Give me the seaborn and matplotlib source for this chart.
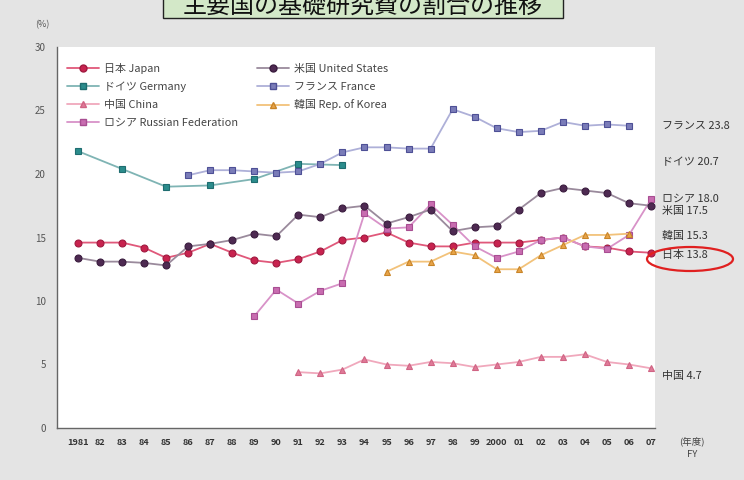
import matplotlib
matplotlib.use("Agg")
import matplotlib.pyplot as plt
from matplotlib.patches import Ellipse, Rectangle
from matplotlib.lines import Line2D
import seaborn as sns
import pandas as pd

sns.set_theme(style="white")
plt.rcParams["font.family"] = ["Noto Sans CJK JP", "DejaVu Sans"]

# Share of basic research in total R&D expenditure (%), by fiscal year
years_all = list(range(1981, 2008))
japan = [14.6, 14.6, 14.6, 14.2, 13.4, 13.8, 14.5, 13.8, 13.2, 13.0, 13.3, 13.9, 14.8, 15.0, 15.4,
         14.6, 14.3, 14.3, 14.6, 14.6, 14.6, 14.8, 15.0, 14.3, 14.2, 13.9, 13.8]
usa = [13.4, 13.1, 13.1, 13.0, 12.8, 14.3, 14.5, 14.8, 15.3, 15.1, 16.8, 16.6, 17.3, 17.5, 16.1,
       16.6, 17.2, 15.5, 15.8, 15.9, 17.2, 18.5, 18.9, 18.7, 18.5, 17.7, 17.5]
germany_years = [1981, 1983, 1985, 1987, 1989, 1991, 1993]
germany = [21.8, 20.4, 19.0, 19.1, 19.6, 20.8, 20.7]
france_years = list(range(1986, 2007))
france = [19.9, 20.3, 20.3, 20.2, 20.1, 20.2, 20.8, 21.7, 22.1, 22.1, 22.0, 22.0, 25.1, 24.5, 23.6,
          23.3, 23.4, 24.1, 23.8, 23.9, 23.8]
china_years = list(range(1991, 2008))
china = [4.4, 4.3, 4.6, 5.4, 5.0, 4.9, 5.2, 5.1, 4.8, 5.0, 5.2, 5.6, 5.6, 5.8, 5.2, 5.0, 4.7]
korea_years = list(range(1995, 2007))
korea = [12.3, 13.1, 13.1, 13.9, 13.6, 12.5, 12.5, 13.6, 14.4, 15.2, 15.2, 15.3]
russia_years = list(range(1989, 2008))
russia = [8.8, 10.9, 9.8, 10.8, 11.4, 16.9, 15.7, 15.8, 17.6, 16.0, 14.3, 13.4, 13.9, 14.8, 15.0,
          14.3, 14.1, 15.2, 18.0]

x_ticklabels = ["1981", "82", "83", "84", "85", "86", "87", "88", "89", "90", "91", "92", "93", "94",
                "95", "96", "97", "98", "99", "2000", "01", "02", "03", "04", "05", "06", "07"]

series = [
    # name, years, values, line colour, marker, marker face, marker edge
    ("日本 Japan", years_all, japan, "#e0587a", "o", "#c8234f", "#a01a40"),
    ("ドイツ Germany", germany_years, germany, "#7fb4b4", "s", "#2b8c8c", "#1f6d70"),
    ("中国 China", china_years, china, "#f0a8bc", "^", "#e07a98", "#d06484"),
    ("ロシア Russian Federation", russia_years, russia, "#d892c8", "s", "#c86cb0", "#a84e92"),
    ("米国 United States", years_all, usa, "#9a8a9c", "o", "#4e2a52", "#3a1c3e"),
    ("フランス France", france_years, france, "#aeb0d8", "s", "#7a7cb8", "#4e5096"),
    ("韓国 Rep. of Korea", korea_years, korea, "#f2c27a", "^", "#e8a448", "#c88428"),
]

# Right-hand value labels: text, vertical position on the value scale
end_labels = [
    ("フランス 23.8", 23.8),
    ("ドイツ 20.7", 20.9),
    ("ロシア 18.0", 18.1),
    ("米国 17.5", 17.1),
    ("韓国 15.3", 15.1),
    ("日本 13.8", 13.6),
    ("中国 4.7", 4.1),
]

fig = plt.figure(figsize=(7.44, 4.80), dpi=100, facecolor="#e4e4e4")
ax = fig.add_axes([57 / 744, 1 - 428 / 480, 598 / 744, 381 / 480])
ax.set_facecolor("white")

handles = []
for name, yrs, vals, lc, mk, mfc, mec in series:
    df = pd.DataFrame({"year": yrs, "value": vals})
    sns.lineplot(data=df, x="year", y="value", ax=ax, color=lc, linewidth=1.3,
                 marker=mk, markersize=5, markerfacecolor=mfc, markeredgecolor=mec,
                 markeredgewidth=0.8, zorder=3)
    handles.append(Line2D([], [], color=lc, linewidth=1.3, marker=mk, markersize=5,
                          markerfacecolor=mfc, markeredgecolor=mec, label=name))

ax.set_xlim(1980.05, 2007.18)
ax.set_ylim(0, 30)
ax.set_xticks(years_all)
ax.set_xticklabels(x_ticklabels, fontsize=6.6, color="#333333", fontweight="bold")
ax.set_yticks(range(0, 31, 5))
ax.set_yticklabels([str(v) for v in range(0, 31, 5)], fontsize=7, color="#555555")
ax.tick_params(axis="both", direction="in", length=2.5, width=0.7, color="#777777")
ax.tick_params(axis="x", pad=7)
ax.tick_params(axis="y", pad=8)
ax.set_xlabel("")
ax.set_ylabel("")
for side in ["top", "right"]:
    ax.spines[side].set_visible(False)
for side in ["left", "bottom"]:
    ax.spines[side].set_color("#666666")
    ax.spines[side].set_linewidth(1.0)

leg = ax.legend(handles=handles, ncol=2, loc="upper left", bbox_to_anchor=(0.0, 0.985),
                frameon=False, fontsize=7.9, handlelength=2.9, columnspacing=1.7,
                labelspacing=0.72, handletextpad=0.5)
for t in leg.get_texts():
    t.set_color("#444444")

for text, ypos in end_labels:
    ax.text(2007.5, ypos, text, fontsize=7.9, color="#333333", ha="left", va="center",
            clip_on=False)

fig.text(42 / 744, 1 - 25 / 480, "(%)", fontsize=6.5, color="#555555", ha="center", va="center")
fig.text(692 / 744, 1 - 448 / 480, "(年度)\nFY", fontsize=6.8, color="#444444",
         ha="center", va="center", linespacing=1.5)

fig.add_artist(Ellipse((690 / 744, 1 - 259 / 480), 86 / 744, 24 / 480,
                       transform=fig.transFigure, fill=False, edgecolor="#e02020",
                       linewidth=1.6))

# Title box running off the top edge
fig.add_artist(Rectangle((163 / 744, 1 - 18 / 480), 400 / 744, 40 / 480,
                         transform=fig.transFigure, facecolor="#d3e8c8",
                         edgecolor="#222222", linewidth=1.0))
fig.text(183 / 744, 1 - 13 / 480, "主要国の基礎研究費の割合の推移", fontsize=17.3,
         color="#111111", ha="left", va="baseline")

fig.savefig("out.png", dpi=100, facecolor=fig.get_facecolor())
